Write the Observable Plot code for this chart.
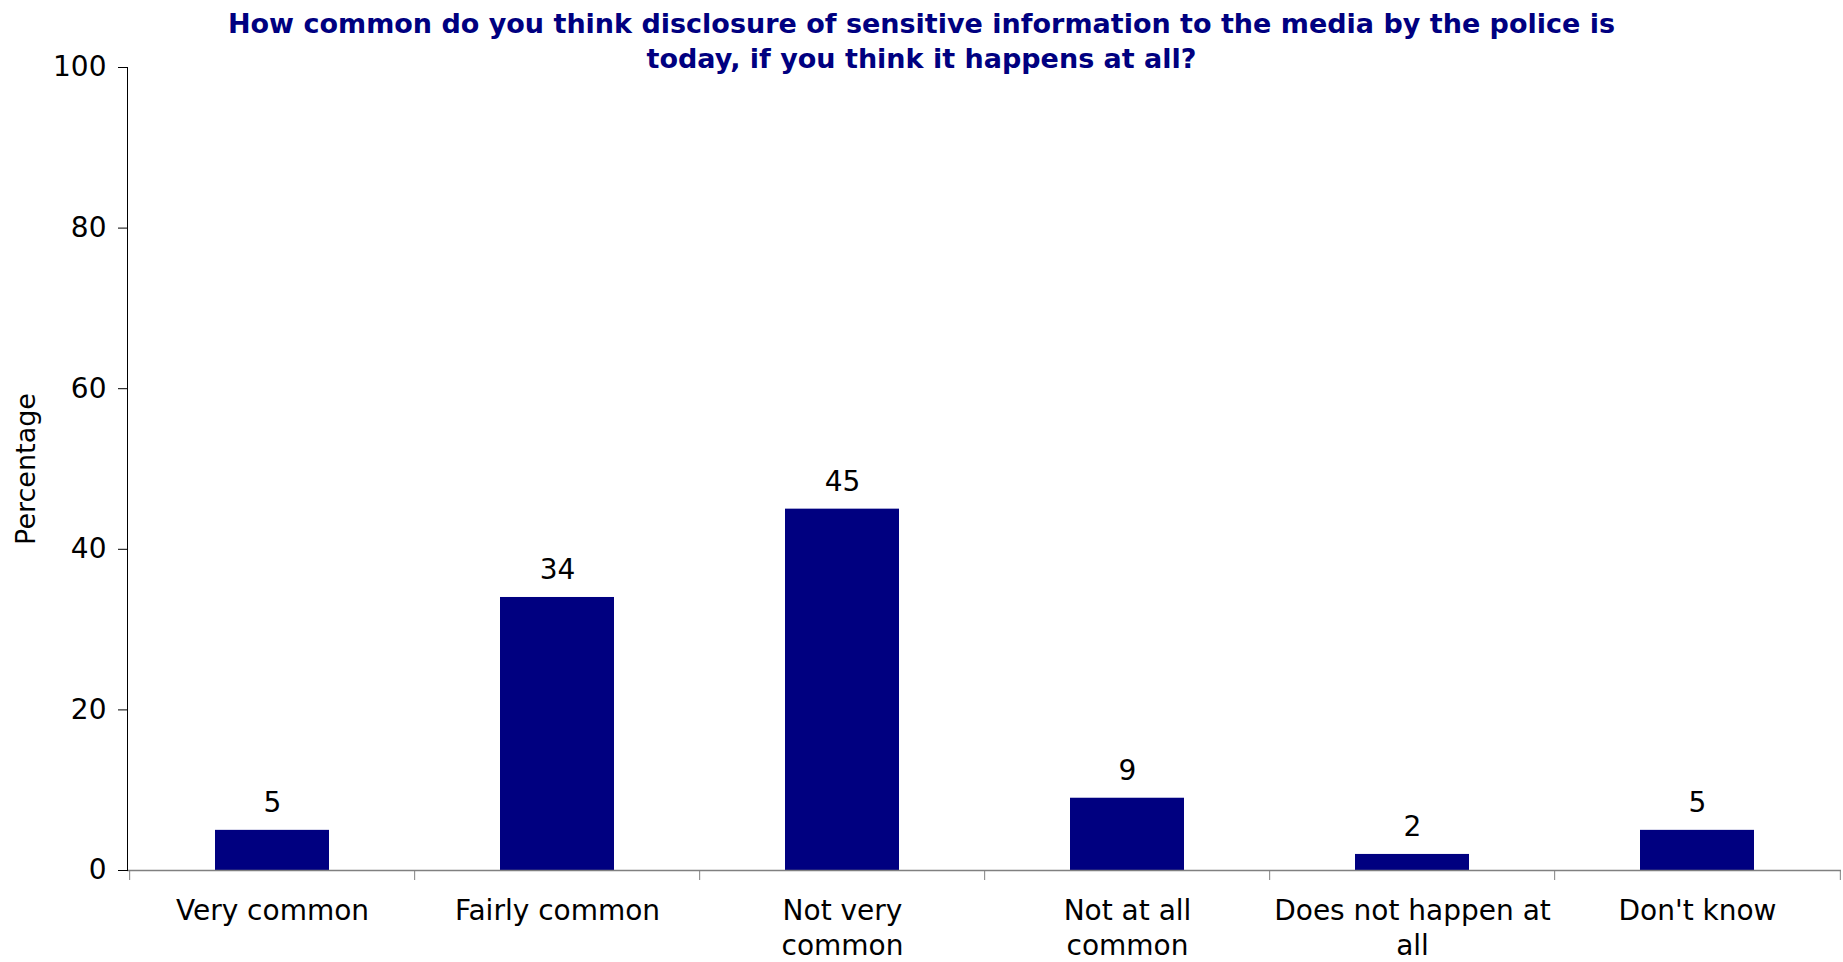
<!DOCTYPE html>
<html><head><meta charset="utf-8">
<script src="https://cdn.jsdelivr.net/npm/d3@7"></script>
<script src="https://cdn.jsdelivr.net/npm/@observablehq/plot@0.6"></script>
<style>
html,body{margin:0;padding:0;background:#fff;overflow:hidden}
#wrap{position:relative;width:1843px;height:962px}
#title{position:absolute;left:0;top:6px;width:1843px;text-align:center;font-family:"DejaVu Sans";font-weight:bold;font-size:27px;color:#000080;line-height:35px;z-index:2}
#chart{position:absolute;left:0;top:0}
</style></head><body>
<div id="wrap"><div id="title">How common do you think disclosure of sensitive information to the media by the police is<br>today, if you think it happens at all?</div><div id="chart"></div></div>
<script>
const categories = ["Very common","Fairly common","Not very common","Not at all common","Does not happen at all","Don't know"];
const tickLabels = ["Very common","Fairly common","Not very\ncommon","Not at all\ncommon","Does not happen at\nall","Don't know"];
const values = [5,34,45,9,2,5];
const yTicks = [0,20,40,60,80,100];
const yLabel = "Percentage";

const data = categories.map((c,i)=>({category:c, value:values[i]}));
const W=1843,H=962, mL=127, mR=2, mT=67, mB=92;
const step=(W-mL-mR)/categories.length;
const chart = Plot.plot({
  width:W, height:H, marginLeft:mL, marginRight:mR, marginTop:mT, marginBottom:mB,
  style:{fontFamily:"DejaVu Sans", fontSize:"28px", color:"#000", background:"#fff"},
  x:{domain:categories, paddingInner:0.6, paddingOuter:0.3, label:null},
  y:{domain:[0,100], label:null},
  marks:[
    Plot.axisY({ticks:yTicks, tickSize:9, tickPadding:12, stroke:"#000", label:null, fontSize:28}),
    Plot.axisX({tickSize:0, tickPadding:24, tickFormat:(d)=>tickLabels[categories.indexOf(d)], lineHeight:1.26, fontSize:28, label:null}),
    Plot.axisX({ticks:categories, text:null, tickSize:10, dx:-step/2, stroke:"#808080", label:null}),
    Plot.axisX({ticks:[categories[categories.length-1]], text:null, tickSize:10, dx:step/2, stroke:"#808080", label:null}),
    Plot.barY(data,{x:"category", y:"value", fill:"#000080"}),
    Plot.text(data,{x:"category", y:"value", text:d=>String(d.value), dy:-27, fontSize:28, fill:"#000"}),
    Plot.ruleY([0],{stroke:"#808080", strokeWidth:1.5}),
    Plot.frame({anchor:"left", stroke:"#000"}),
    Plot.text([yLabel],{text:d=>d, frameAnchor:"left", textAnchor:"middle", lineAnchor:"middle", rotate:-90, dx:-101, fontSize:27, fill:"#000"})
  ]
});
document.getElementById("chart").appendChild(chart);
</script>
</body></html>
